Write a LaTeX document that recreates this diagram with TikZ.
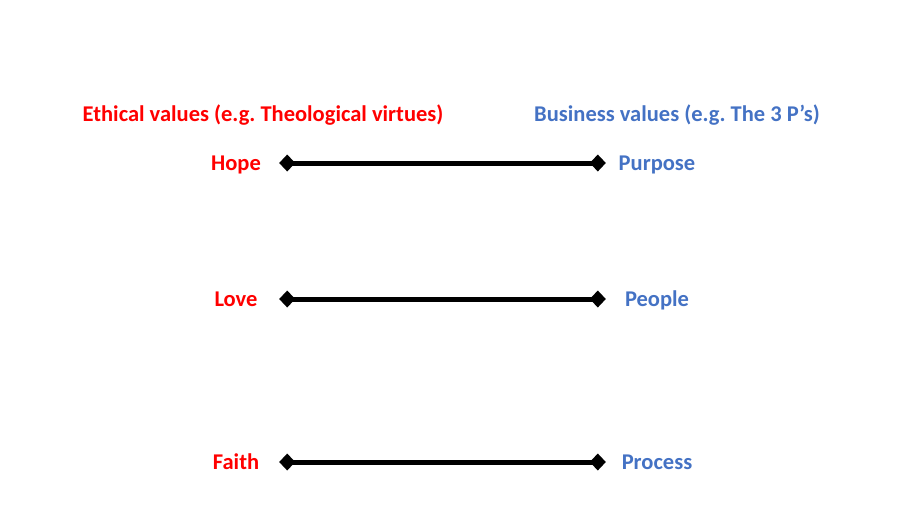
\documentclass[tikz,border=0pt]{standalone}
\usepackage{fontspec}
\setmainfont{Carlito}
\usepackage{tikz}
\usetikzlibrary{arrows.meta, positioning}
\frenchspacing
\definecolor{ethicsred}{HTML}{FF0000}
\definecolor{businessblue}{HTML}{4472C4}
\tikzstyle{heading} = [inner sep=0pt, font=\bfseries\fontsize{22.5}{27}\selectfont]
\tikzstyle{virtue} = [heading, text=ethicsred, minimum width=86pt, text height=14pt, text depth=0pt]
\tikzstyle{pvalue} = [heading, text=businessblue, minimum width=102pt, text height=14pt, text depth=0pt]
\tikzstyle{link} = [line width=5pt, {Diamond[length=16pt, width=17pt]}-{Diamond[length=16pt, width=17pt]}]

\begin{document}
\begin{tikzpicture}[x=1pt, y=-1pt]
    \useasboundingbox (0,0) rectangle (904,508);
    \node[heading, text=ethicsred] (ethics) at (263,115) {Ethical values (e.g. Theological virtues)};
    \node[heading, text=businessblue] (business) at (677,115) {Business values (e.g. The 3 P’s)};
    \node[virtue] (hope) at (236,163) {Hope};
    \node[virtue] (love) at (236,299) {Love};
    \node[virtue] (faith) at (236,462) {Faith};
    \node[pvalue] (purpose) at (657,163) {Purpose};
    \node[pvalue] (people) at (657,299) {People};
    \node[pvalue] (process) at (657,462) {Process};

    \draw[link] (hope) -- (purpose);
    \draw[link] (love) -- (people);
    \draw[link] (faith) -- (process);
\end{tikzpicture}
\end{document}
